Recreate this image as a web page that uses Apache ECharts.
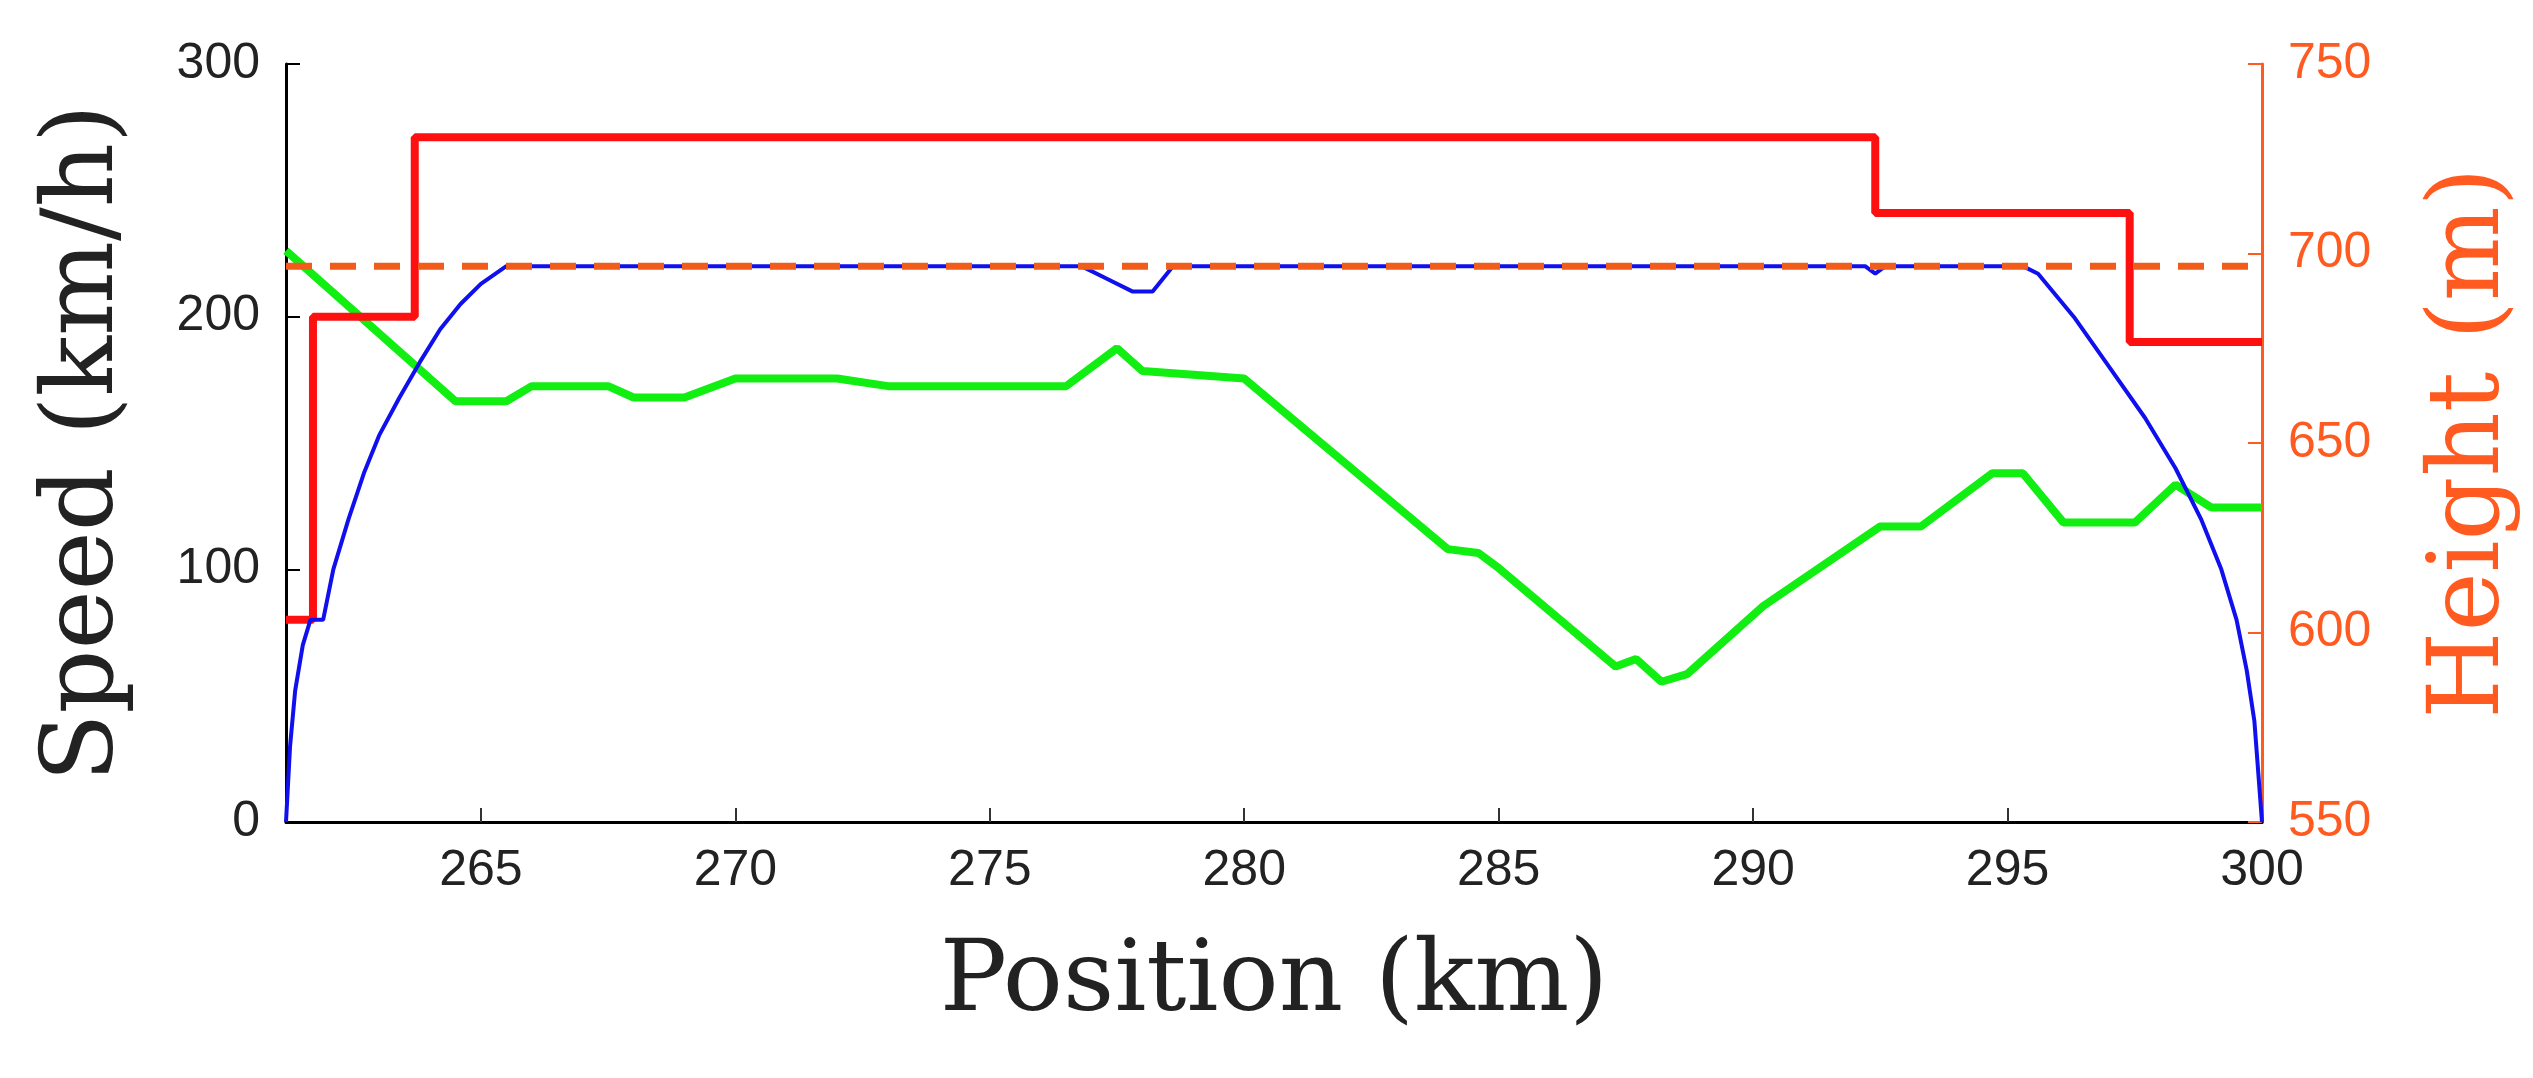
<!DOCTYPE html>
<html><head><meta charset="utf-8">
<script src="https://cdn.jsdelivr.net/npm/echarts@6/dist/echarts.min.js"></script>
<style>html,body{margin:0;background:#fff}#c{width:2533px;height:1078px}</style>
</head><body><div id="c"></div>
<script>
const limitPos=[261.17,261.7,261.7,263.7,263.7,292.4,292.4,297.4,297.4,300];
const limitSpd=[80,80,200,200,271,271,241,241,190,190];
const speedPos=[261.17,261.25,261.35,261.5,261.65,261.9,262.1,262.4,262.7,263.0,263.4,263.8,264.2,264.6,265,265.5,276.8,277.3,277.8,278.2,278.6,292.2,292.4,292.6,295.3,295.6,296.3,297,297.7,298.3,298.8,299.2,299.5,299.7,299.85,300];
const speedVal=[0,30,52,70,80,80,100,120,138,153,168,182,195,205,213,220,220,215,210,210,220,220,217,220,220,217,200,180,160,140,120,100,80,60,40,0];
const refPos=[261.17,300];
const refSpd=[220,220];
const hPos=[261.17,264.5,265.5,266,267.5,268,269,270,272,273,276.5,277.5,278,280,284,284.6,285,287.3,287.7,288.2,288.7,290.2,292.5,293.3,294.7,295.3,296.1,297.5,298.3,299,300];
const hVal=[700.7,661,661,665,665,662,662,667,667,665,665,675,669,667,622,621,617,591,593,587,589,607,628,628,642,642,629,629,639,633,633];
const xTicks=[265,270,275,280,285,290,295,300];
const z=(a,b)=>a.map((v,i)=>[v,b[i]]);
const ch=echarts.init(document.getElementById('c'));
const orange='#ff5a1f';
ch.setOption({
 animation:false,
 grid:{left:286,right:271,top:64,bottom:256},
 xAxis:{type:'value',min:261.17,max:300,
  name:'Position (km)',nameLocation:'middle',nameGap:112,
  nameTextStyle:{fontFamily:'DejaVu Serif',fontSize:100,color:'#222'},
  axisLine:{lineStyle:{color:'#000',width:3}},
  axisTick:{inside:true,length:14,lineStyle:{color:'#333',width:2},customValues:xTicks},
  axisLabel:{fontFamily:'Liberation Sans',fontSize:50,color:'#222',margin:24,customValues:xTicks},
  splitLine:{show:false}},
 yAxis:[{type:'value',min:0,max:300,interval:100,
  name:'Speed (km/h)',nameLocation:'middle',nameGap:150,
  nameTextStyle:{fontFamily:'DejaVu Serif',fontSize:100,color:'#222'},
  axisLine:{show:true,lineStyle:{color:'#000',width:3}},
  axisTick:{show:true,inside:true,length:14,lineStyle:{color:'#000',width:2}},
  axisLabel:{fontFamily:'Liberation Sans',fontSize:50,color:'#222',margin:26},
  splitLine:{show:false}},
 {type:'value',min:550,max:750,interval:50,position:'right',
  name:'Height (m)',nameLocation:'middle',nameGap:160,
  nameTextStyle:{fontFamily:'DejaVu Serif',fontSize:100,color:orange},
  axisLine:{show:true,lineStyle:{color:orange,width:3}},
  axisTick:{show:true,inside:true,length:14,lineStyle:{color:orange,width:2}},
  axisLabel:{fontFamily:'Liberation Sans',fontSize:50,color:orange,margin:26},
  splitLine:{show:false}}],
 series:[
  {type:'line',data:z(limitPos,limitSpd),showSymbol:false,lineStyle:{color:'#ff1010',width:8},z:3},
  {type:'line',data:z(hPos,hVal),yAxisIndex:1,showSymbol:false,lineStyle:{color:'#11ee11',width:8},z:2},
  {type:'line',data:z(speedPos,speedVal),showSymbol:false,lineStyle:{color:'#1010ee',width:4},z:4},
  {type:'line',data:z(refPos,refSpd),showSymbol:false,lineStyle:{color:'#f25c1a',width:7,type:[26,18]},z:5}
 ]
});
</script></body></html>
